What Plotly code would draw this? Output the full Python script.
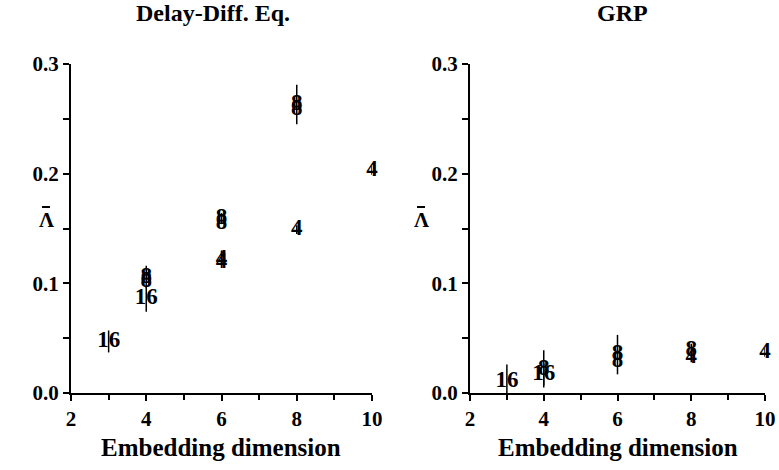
import plotly.graph_objects as go

# Mean Lyapunov exponent estimates vs embedding dimension,
# labelled by neighbourhood size (4, 8, 16 points)
panel_titles = ["Delay-Diff. Eq.", "GRP"]
x_label = "Embedding dimension"
x_ticks = [2, 4, 6, 8, 10]
y_ticks = [0.0, 0.1, 0.2, 0.3]
y_tick_text = ["0.0", "0.1", "0.2", "0.3"]

# Delay-differential equation panel
dde_8_x = [4, 4, 6, 6, 8, 8]
dde_8_y = [0.106, 0.102, 0.159, 0.155, 0.263, 0.259]
dde_8_err = [0.010, 0.0, 0.005, 0.0, 0.018, 0.0]
dde_4_x = [6, 6, 8, 10]
dde_4_y = [0.122, 0.119, 0.149, 0.203]
dde_4_err = [0.008, 0.0, 0.004, 0.004]
dde_16_x = [3, 4]
dde_16_y = [0.047, 0.086]
dde_16_err = [0.010, 0.012]

# GRP panel
grp_8_x = [4, 6, 6, 8]
grp_8_y = [0.022, 0.035, 0.029, 0.039]
grp_8_err = [0.017, 0.018, 0.0, 0.006]
grp_4_x = [8, 10]
grp_4_y = [0.033, 0.037]
grp_4_err = [0.005, 0.004]
grp_16_x = [3, 4]
grp_16_y = [0.011, 0.017]
grp_16_err = [0.015, 0.010]

SERIF = "Liberation Serif"
W, H = 779, 470

fig = go.Figure()


def add_series(xs, ys, errs, label, xref, yref):
    fig.add_trace(go.Scatter(
        x=xs, y=ys, mode="text",
        text=[f"<b>{label}</b>"] * len(xs),
        textposition="middle center",
        textfont=dict(family=SERIF, size=23, color="black"),
        error_y=dict(type="data", array=errs, symmetric=True,
                     color="black", thickness=1.5, width=0),
        cliponaxis=False,
        xaxis=xref, yaxis=yref, showlegend=False, hoverinfo="skip",
    ))


add_series(dde_8_x, dde_8_y, dde_8_err, "8", "x", "y")
add_series(dde_4_x, dde_4_y, dde_4_err, "4", "x", "y")
add_series(dde_16_x, dde_16_y, dde_16_err, "16", "x", "y")
add_series(grp_8_x, grp_8_y, grp_8_err, "8", "x2", "y2")
add_series(grp_4_x, grp_4_y, grp_4_err, "4", "x2", "y2")
add_series(grp_16_x, grp_16_y, grp_16_err, "16", "x2", "y2")

tick_font = dict(family=SERIF, size=21, color="black", weight="bold")

x_common = dict(
    range=[2, 10], tickvals=x_ticks, ticktext=[f"<b>{v}</b>" for v in x_ticks],
    showline=True, linecolor="black", linewidth=2,
    ticks="outside", ticklen=6, tickwidth=2, tickcolor="black",
    minor=dict(dtick=1, tick0=2, ticks="outside", ticklen=5,
               tickwidth=2, tickcolor="black", showgrid=False),
    showgrid=False, zeroline=False, tickfont=tick_font, fixedrange=True,
    automargin=False,
)
y_common = dict(
    range=[0, 0.3], tickvals=y_ticks, ticktext=[f"<b>{t}</b>" for t in y_tick_text],
    showline=True, linecolor="black", linewidth=2,
    ticks="outside", ticklen=6, tickwidth=2, tickcolor="black",
    minor=dict(dtick=0.05, tick0=0, ticks="outside", ticklen=6,
               tickwidth=2, tickcolor="black", showgrid=False),
    showgrid=False, zeroline=False, tickfont=tick_font, fixedrange=True,
    automargin=False,
)

x_doms = [[71 / W, 372 / W], [470 / W, 765 / W]]
y_dom = [1 - 393 / H, 1 - 64 / H]
fig.update_layout(
    width=W, height=H,
    margin=dict(l=0, r=0, t=0, b=0, pad=0, autoexpand=False),
    paper_bgcolor="white", plot_bgcolor="white",
    xaxis=dict(domain=x_doms[0], anchor="y", **x_common),
    yaxis=dict(domain=y_dom, anchor="x", **y_common),
    xaxis2=dict(domain=x_doms[1], anchor="y2", **x_common),
    yaxis2=dict(domain=y_dom, anchor="x2", **y_common),
)

title_font = dict(family=SERIF, size=24, color="black")
label_font = dict(family=SERIF, size=25, color="black")
title_cx = [213 / W, 622 / W]
for i, (title, dom) in enumerate(zip(panel_titles, x_doms)):
    cx = (dom[0] + dom[1]) / 2
    fig.add_annotation(text=f"<b>{title}</b>", x=title_cx[i], y=1 - 13 / H,
                       xref="paper", yref="paper", showarrow=False,
                       font=title_font, xanchor="center", yanchor="middle")
    fig.add_annotation(text=f"<b>{x_label}</b>", x=cx, y=1 - 447 / H,
                       xref="paper", yref="paper", showarrow=False,
                       font=label_font, xanchor="center", yanchor="middle")
    # axis symbol: capital lambda with an overbar
    lam_x = [46, 421][i] / W
    fig.add_annotation(text="<b>\u039b</b>", x=lam_x, y=1 - 220 / H,
                       xref="paper", yref="paper", showarrow=False,
                       font=dict(family=SERIF, size=21, color="black"),
                       xanchor="center", yanchor="middle")
    fig.add_shape(type="line", xref="paper", yref="paper",
                  x0=lam_x - 4 / W, x1=lam_x + 4 / W,
                  y0=1 - 207 / H, y1=1 - 207 / H,
                  line=dict(color="black", width=2))

fig.write_html("out.html")
